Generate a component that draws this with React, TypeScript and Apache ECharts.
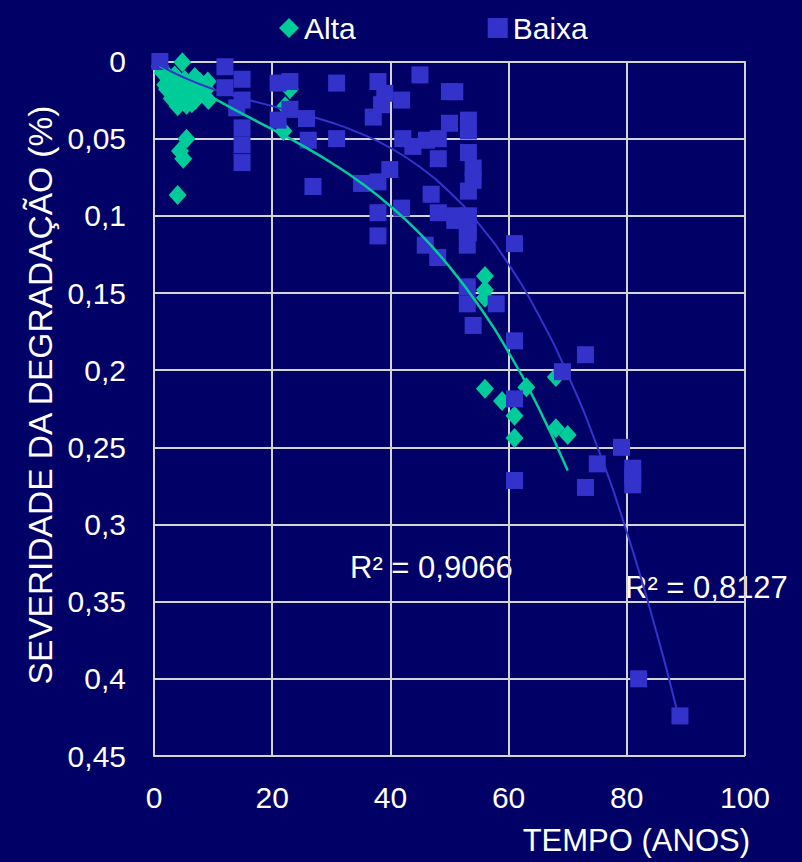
import React, { useEffect, useRef } from "react";
import * as echarts from "echarts";

// Alta (diamonds): [tempo (anos), severidade]
const altaPoints: [number, number][] = [
  [1, 0.003], [1.5, 0.0075], [1.9, 0.015], [2.5, 0.01], [3, 0.012],
  [3.8, 0.017], [4, 0.029], [4.7, 0.023], [4.8, 0.0005], [5.7, 0.0165],
  [6.4, 0.027], [6.9, 0.01], [7.5, 0.02], [8.3, 0.02], [9.1, 0.013],
  [9.2, 0.025], [2.2, 0.018], [3.5, 0.009], [5.2, 0.012], [6, 0.02],
  [7.7, 0.013], [8.8, 0.018], [3, 0.024], [5.5, 0.028], [7, 0.025], [2.6, 0.013],
  [5.5, 0.05], [4.4, 0.058], [4.95, 0.063], [4, 0.0865],
  [23, 0.018], [22.2, 0.029], [21.9, 0.045],
  [56, 0.139], [56, 0.148], [56, 0.153], [56, 0.212], [58.9, 0.22],
  [63, 0.211], [61, 0.2296], [61, 0.244], [68, 0.2045], [68, 0.2376], [70, 0.242],
];

// Baixa (squares)
const baixaPoints: [number, number][] = [
  [1, 0], [12, 0.0034], [14.9, 0.0115], [12, 0.017], [14.9, 0.025], [14, 0.03],
  [14.9, 0.043], [14.9, 0.054], [14.9, 0.0655], [21, 0.014], [23, 0.013],
  [30.9, 0.014], [21, 0.038], [23, 0.031], [25.8, 0.037], [26.1, 0.051],
  [30.9, 0.05], [26.9, 0.081], [37.9, 0.013], [39.05, 0.0206], [41.9, 0.025],
  [38.5, 0.028], [37.1, 0.036], [45, 0.0087], [50, 0.0195], [50.9, 0.0196],
  [50, 0.04], [53.2, 0.038], [53.2, 0.045], [42.1, 0.05], [43.8, 0.055],
  [46.1, 0.051], [48.1, 0.05], [48.1, 0.063], [53.2, 0.059], [54, 0.069],
  [54, 0.077], [53.2, 0.084], [39.9, 0.07], [37.9, 0.078], [35.1, 0.079],
  [46.9, 0.086], [48.1, 0.098], [41.9, 0.095], [37.9, 0.098], [50.9, 0.1],
  [53.2, 0.1], [37.9, 0.113], [53.2, 0.111], [45.9, 0.119], [48, 0.127],
  [50.9, 0.103], [53, 0.109], [53, 0.119], [61, 0.118], [53, 0.146],
  [53, 0.157], [57.9, 0.157], [54, 0.171], [61, 0.181], [61, 0.2186],
  [61, 0.2715], [69.1, 0.201], [73, 0.19], [79.1, 0.25], [75, 0.2607],
  [81, 0.2635], [81, 0.269], [81, 0.2743], [73, 0.276], [82, 0.4], [89, 0.424],
];

// Trend lines (polynomial trendlines)
const altaTrend: [number, number][] = [
  [1, 0.0027], [5, 0.0126], [10, 0.0236], [15, 0.0339], [20, 0.0439],
  [25, 0.0542], [30, 0.0656], [35, 0.0785], [40, 0.0937], [45, 0.1116],
  [50, 0.133], [55, 0.1584], [60, 0.1885], [65, 0.2238], [70, 0.265],
];
const baixaTrend: [number, number][] = [
  [1, 0.0025], [5, 0.0103], [10, 0.0179], [15, 0.0238], [20, 0.0289],
  [25, 0.0339], [30, 0.0395], [35, 0.0467], [40, 0.056], [45, 0.0684],
  [50, 0.0846], [55, 0.1053], [60, 0.1314], [65, 0.1637], [70, 0.2028],
  [75, 0.2496], [80, 0.3049], [85, 0.3694], [88.4, 0.419],
];

const r2Alta = "R² = 0,9066";
const r2Baixa = "R² = 0,8127";
const xTitle = "TEMPO (ANOS)";
const yTitle = "SEVERIDADE DA DEGRADAÇÃO (%)";

const FONT = '"Liberation Sans", Arial, sans-serif';
const BG = "#000066";
const GREEN = "#00CC99";
const BLUE = "#3333CC";
const GRID = "#D4D4D4";

export default function App() {
  const ref = useRef<HTMLDivElement>(null);
  useEffect(() => {
    if (!ref.current) return;
    const chart = echarts.init(ref.current, null, { renderer: "svg" });
    const fmtY = (v: number) =>
      v === 0 ? "0" : String(parseFloat(v.toFixed(2))).replace(".", ",");
    chart.setOption({
      animation: false,
      backgroundColor: BG,
      textStyle: { fontFamily: FONT },
      grid: { left: 154, right: 57, top: 61.5, bottom: 106, containLabel: false },
      legend: {
        left: 274,
        top: 8,
        itemGap: 132,
        itemWidth: 20,
        itemHeight: 20,
        textStyle: { color: "#fff", fontSize: 30, fontFamily: FONT },
        data: [
          { name: "Alta", icon: "diamond" },
          { name: "Baixa", icon: "rect" },
        ],
      },
      xAxis: {
        type: "value",
        min: 0,
        max: 100,
        interval: 20,
        axisLine: { show: true, lineStyle: { color: GRID, width: 2 } },
        axisTick: { show: false },
        splitLine: { show: true, lineStyle: { color: GRID, width: 2 } },
        axisLabel: { color: "#fff", fontSize: 30, fontFamily: FONT, margin: 26 },
      },
      yAxis: {
        type: "value",
        inverse: true,
        min: 0,
        max: 0.45,
        interval: 0.05,
        axisLine: { show: true, lineStyle: { color: GRID, width: 2 } },
        axisTick: { show: false },
        splitLine: { show: true, lineStyle: { color: GRID, width: 2 } },
        axisLabel: { color: "#fff", fontSize: 30, fontFamily: FONT, margin: 28, formatter: fmtY },
      },
      series: [
        {
          name: "Alta",
          type: "scatter",
          symbol: "diamond",
          symbolSize: [18, 20],
          itemStyle: { color: GREEN, opacity: 1 },
          data: altaPoints,
        },
        {
          name: "Baixa",
          type: "scatter",
          symbol: "rect",
          symbolSize: 17,
          itemStyle: { color: BLUE, opacity: 1 },
          data: baixaPoints,
        },
        {
          name: "Tendência Alta",
          type: "line",
          smooth: true,
          showSymbol: false,
          symbol: "none",
          lineStyle: { color: GREEN, width: 2.5 },
          data: altaTrend,
        },
        {
          name: "Tendência Baixa",
          type: "line",
          smooth: true,
          showSymbol: false,
          symbol: "none",
          lineStyle: { color: BLUE, width: 2 },
          data: baixaTrend,
        },
      ],
      graphic: [
        {
          type: "text",
          x: 350,
          y: 567,
          style: { text: r2Alta, fill: "#fff", font: `31px ${FONT}`, align: "left", verticalAlign: "middle", textAlign: "left", textVerticalAlign: "middle" },
        },
        {
          type: "text",
          x: 625,
          y: 587,
          style: { text: r2Baixa, fill: "#fff", font: `31px ${FONT}`, align: "left", verticalAlign: "middle", textAlign: "left", textVerticalAlign: "middle" },
        },
        {
          type: "text",
          x: 750,
          y: 840,
          style: { text: xTitle, fill: "#fff", font: `31px ${FONT}`, align: "right", verticalAlign: "middle", textAlign: "right", textVerticalAlign: "middle" },
        },
        {
          type: "text",
          x: 40,
          y: 395,
          rotation: Math.PI / 2,
          style: { text: yTitle, fill: "#fff", font: `33.5px ${FONT}`, align: "center", verticalAlign: "middle", textAlign: "center", textVerticalAlign: "middle" },
        },
      ],
    });
    return () => chart.dispose();
  }, []);
  return (
    <div
      ref={ref}
      style={{ position: "fixed", left: 0, top: 0, width: 802, height: 862 }}
    />
  );
}
